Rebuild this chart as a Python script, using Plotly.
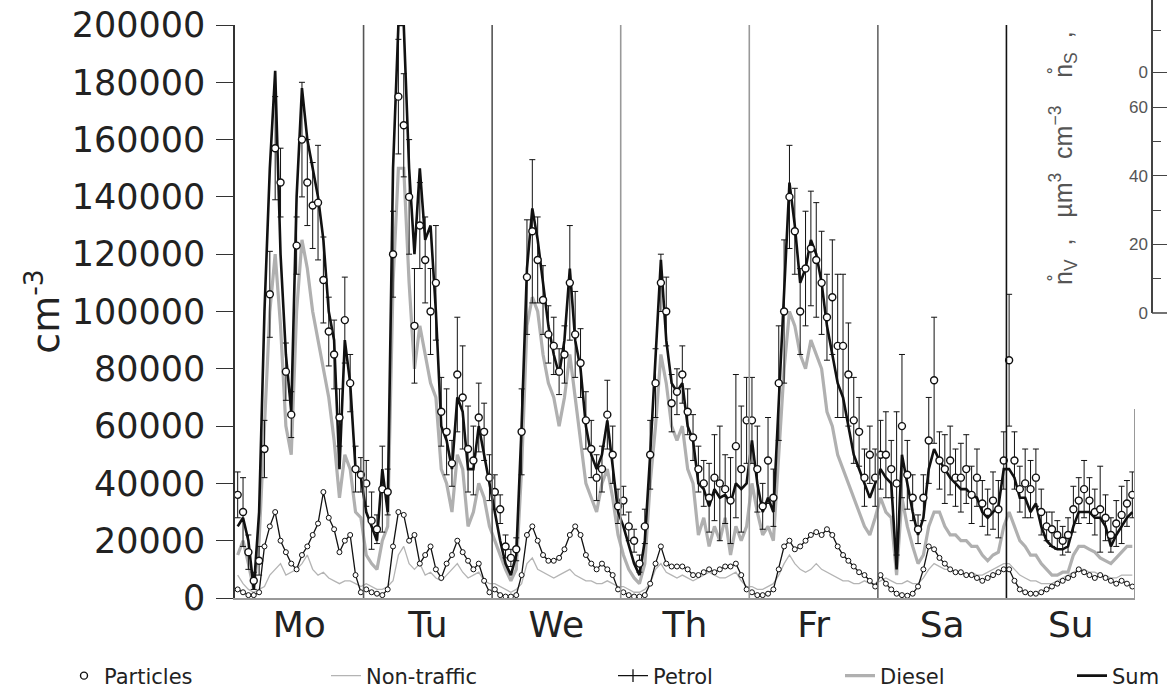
import plotly.graph_objects as go

days = ["Mo", "Tu", "We", "Th", "Fr", "Sa", "Su"]

# hourly particle number concentration (cm^-3), Mo..Su, 24 values per day
particles = [
    36000, 30000, 16000, 6000, 13000, 52000, 106000, 157000, 145000, 79000, 64000, 123000,
    160000, 145000, 137000, 138000, 111000, 93000, 85000, 63000, 97000, 75000, 45000, 43000,
    40000, 27000, 24000, 38000, 37000, 120000, 175000, 165000, 140000, 95000, 130000, 118000,
    100000, 110000, 65000, 58000, 47000, 78000, 70000, 52000, 48000, 63000, 58000, 42000,
    37000, 31000, 18000, 14000, 17000, 58000, 112000, 128000, 118000, 104000, 92000, 88000,
    79000, 85000, 110000, 92000, 82000, 62000, 52000, 42000, 45000, 64000, 50000, 32000,
    34000, 25000, 20000, 12000, 25000, 50000, 75000, 110000, 100000, 68000, 72000, 78000,
    65000, 56000, 45000, 40000, 35000, 42000, 40000, 38000, 34000, 53000, 45000, 62000,
    62000, 45000, 32000, 48000, 35000, 75000, 100000, 140000, 128000, 100000, 115000, 122000,
    118000, 110000, 98000, 105000, 88000, 88000, 78000, 62000, 58000, 42000, 50000, 42000,
    50000, 50000, 45000, 40000, 60000, 43000, 35000, 24000, 35000, 55000, 76000, 48000,
    45000, 48000, 42000, 42000, 45000, 36000, 42000, 33000, 30000, 34000, 31000, 48000,
    83000, 48000, 38000, 40000, 38000, 42000, 30000, 25000, 24000, 22000, 20000, 22000,
    31000, 34000, 38000, 34000, 30000, 31000, 28000, 22000, 26000, 29000, 33000, 36000,
]

particles_err = [
    8000, 12000, 6000, 3000, 5000, 10000, 15000, 18000, 12000, 10000, 8000, 10000,
    20000, 15000, 15000, 20000, 15000, 12000, 12000, 10000, 15000, 10000, 8000, 6000,
    8000, 10000, 5000, 15000, 8000, 15000, 20000, 18000, 20000, 20000, 15000, 15000,
    15000, 20000, 12000, 15000, 8000, 20000, 18000, 15000, 12000, 12000, 10000, 8000,
    6000, 5000, 4000, 3000, 4000, 15000, 20000, 25000, 15000, 12000, 10000, 10000,
    8000, 10000, 20000, 15000, 12000, 10000, 10000, 8000, 8000, 12000, 10000, 6000,
    5000, 5000, 4000, 3000, 6000, 12000, 12000, 10000, 12000, 10000, 8000, 10000,
    8000, 8000, 8000, 8000, 12000, 15000, 20000, 12000, 15000, 25000, 22000, 15000,
    15000, 15000, 8000, 15000, 10000, 20000, 25000, 18000, 15000, 15000, 20000, 20000,
    20000, 18000, 15000, 20000, 25000, 25000, 18000, 15000, 12000, 10000, 10000, 10000,
    12000, 15000, 10000, 25000, 25000, 12000, 8000, 5000, 8000, 15000, 22000, 10000,
    12000, 12000, 10000, 12000, 12000, 10000, 10000, 8000, 8000, 10000, 10000, 10000,
    23000, 10000, 8000, 12000, 10000, 10000, 8000, 5000, 6000, 5000, 5000, 6000,
    8000, 8000, 10000, 8000, 8000, 15000, 8000, 6000, 8000, 10000, 8000, 8000,
]

non_traffic = [
    8000, 5000, 3000, 2000, 3000, 4000, 8000, 10000, 12000, 8000, 9000, 10000,
    12000, 15000, 10000, 8000, 9000, 7000, 6000, 5000, 6000, 6000, 5000, 4000,
    5000, 4000, 3000, 3000, 4000, 6000, 15000, 18000, 12000, 10000, 12000, 8000,
    9000, 7000, 6000, 8000, 10000, 12000, 9000, 7000, 8000, 9000, 6000, 5000,
    5000, 4000, 3000, 2000, 3000, 5000, 12000, 14000, 10000, 9000, 8000, 7000,
    8000, 9000, 10000, 8000, 7000, 6000, 6000, 5000, 5000, 6000, 5000, 4000,
    4000, 3000, 2000, 2000, 3000, 5000, 10000, 12000, 9000, 8000, 7000, 8000,
    7000, 6000, 7000, 8000, 9000, 8000, 7000, 7000, 8000, 9000, 6000, 4000,
    4000, 3000, 3000, 4000, 5000, 8000, 12000, 15000, 12000, 10000, 9000, 10000,
    12000, 10000, 9000, 8000, 7000, 6000, 6000, 5000, 5000, 6000, 5000, 5000,
    6000, 7000, 6000, 5000, 5000, 6000, 5000, 5000, 7000, 10000, 12000, 11000,
    10000, 10000, 9000, 9000, 8000, 9000, 8000, 8000, 9000, 10000, 11000, 12000,
    12000, 10000, 8000, 7000, 6000, 6000, 5000, 5000, 5000, 6000, 7000, 8000,
    9000, 10000, 10000, 9000, 9000, 8000, 8000, 7000, 7000, 8000, 8000, 8000,
]

petrol = [
    3000, 2000, 1000, 1000, 2000, 18000, 25000, 30000, 20000, 16000, 12000, 10000,
    15000, 18000, 22000, 26000, 37000, 28000, 24000, 16000, 20000, 22000, 8000, 2000,
    3000, 2000, 1500, 1000, 3000, 18000, 30000, 29000, 20000, 22000, 12000, 15000,
    18000, 10000, 7000, 12000, 15000, 20000, 16000, 13000, 10000, 12000, 6000, 2000,
    3000, 1000, 500, 500, 1000, 8000, 22000, 25000, 20000, 15000, 13000, 13000,
    14000, 17000, 22000, 25000, 22000, 15000, 12000, 10000, 12000, 10000, 8000, 3000,
    2000, 1000, 500, 500, 1000, 5000, 12000, 18000, 12000, 11000, 11000, 11000,
    10000, 8000, 8000, 9000, 10000, 9000, 10000, 11000, 11000, 12000, 8000, 3000,
    2000, 1000, 1000, 1500, 3000, 10000, 18000, 20000, 17000, 18000, 20000, 22000,
    23000, 22000, 24000, 22000, 18000, 15000, 13000, 11000, 9000, 8000, 6000, 4000,
    8000, 5000, 3000, 1500, 1000, 800, 1500, 4000, 10000, 18000, 17000, 14000,
    12000, 10000, 9000, 9000, 8000, 8000, 7000, 6000, 7000, 8000, 9000, 10000,
    10000, 6000, 3000, 2000, 1500, 1500, 2000, 3000, 4000, 5000, 6000, 7000,
    8000, 10000, 9000, 8000, 7000, 8000, 7000, 6000, 5000, 6000, 5000, 4000,
]

diesel = [
    15000, 20000, 12000, 3000, 20000, 60000, 100000, 120000, 95000, 60000, 50000, 100000,
    125000, 115000, 100000, 90000, 80000, 70000, 55000, 35000, 50000, 45000, 30000, 28000,
    15000, 12000, 10000, 20000, 25000, 110000, 150000, 150000, 110000, 80000, 95000, 85000,
    75000, 70000, 45000, 40000, 30000, 50000, 45000, 25000, 30000, 40000, 35000, 25000,
    20000, 15000, 10000, 6000, 10000, 45000, 95000, 105000, 100000, 85000, 75000, 70000,
    60000, 70000, 85000, 70000, 55000, 40000, 35000, 30000, 40000, 45000, 35000, 22000,
    15000, 10000, 7000, 5000, 12000, 40000, 60000, 85000, 75000, 60000, 55000, 60000,
    45000, 40000, 22000, 28000, 18000, 25000, 20000, 28000, 15000, 25000, 20000, 25000,
    40000, 30000, 22000, 25000, 20000, 50000, 80000, 100000, 95000, 85000, 80000, 90000,
    85000, 80000, 65000, 60000, 50000, 45000, 40000, 35000, 30000, 25000, 22000, 28000,
    35000, 30000, 28000, 8000, 35000, 25000, 18000, 12000, 15000, 25000, 30000, 30000,
    25000, 22000, 22000, 20000, 20000, 18000, 18000, 15000, 13000, 15000, 16000, 25000,
    30000, 25000, 20000, 18000, 15000, 15000, 12000, 10000, 8000, 8000, 9000, 9000,
    15000, 18000, 18000, 17000, 16000, 14000, 13000, 12000, 14000, 16000, 18000, 18000,
]

total = [
    25000, 28000, 20000, 3000, 30000, 100000, 150000, 184000, 120000, 85000, 65000, 140000,
    178000, 160000, 150000, 140000, 125000, 100000, 90000, 45000, 90000, 75000, 45000, 42000,
    30000, 25000, 20000, 45000, 30000, 150000, 200000, 200000, 150000, 120000, 150000, 125000,
    130000, 100000, 60000, 55000, 45000, 70000, 65000, 45000, 45000, 60000, 50000, 40000,
    30000, 20000, 12000, 8000, 15000, 60000, 115000, 136000, 125000, 110000, 95000, 85000,
    78000, 90000, 115000, 90000, 80000, 60000, 50000, 45000, 50000, 62000, 45000, 30000,
    25000, 18000, 12000, 8000, 20000, 50000, 85000, 118000, 90000, 75000, 72000, 75000,
    60000, 55000, 40000, 38000, 32000, 38000, 35000, 36000, 33000, 40000, 38000, 40000,
    55000, 40000, 30000, 35000, 30000, 70000, 110000, 145000, 130000, 110000, 115000, 125000,
    120000, 110000, 95000, 85000, 75000, 70000, 60000, 50000, 45000, 40000, 35000, 40000,
    45000, 42000, 40000, 10000, 50000, 40000, 30000, 22000, 28000, 45000, 52000, 48000,
    45000, 42000, 40000, 38000, 38000, 36000, 35000, 30000, 28000, 30000, 32000, 45000,
    45000, 42000, 35000, 35000, 30000, 33000, 25000, 20000, 18000, 17000, 17000, 18000,
    25000, 30000, 30000, 30000, 28000, 28000, 25000, 18000, 22000, 25000, 28000, 30000,
]

# partial axis of the overlapping panel on the right
inset_ticks = [0, 20, 40, 60, 70.2]
inset_ticktext = ["0", "20", "40", "60", "0"]

hours_per_day = 24
n = len(particles)
x = [h + 0.5 for h in range(n)]
FONT = "DejaVu Sans"
legend_y = 1 - 676 / 691
legend_font = dict(size=21, family=FONT, color="#222")

fig = go.Figure()

fig.add_trace(go.Scatter(x=x, y=non_traffic, mode="lines", name="Non-traffic", legend="legend2",
                         line=dict(color="#b4b4b4", width=1.3)))
fig.add_trace(go.Scatter(x=x, y=diesel, mode="lines", name="Diesel", legend="legend4",
                         line=dict(color="#b0b0b0", width=3.2)))
fig.add_trace(go.Scatter(x=x, y=petrol, mode="lines+markers", name="Petrol", showlegend=False,
                         legendgroup="petrol",
                         line=dict(color="#111", width=1.3),
                         marker=dict(symbol="circle", size=5, color="white",
                                     line=dict(color="#111", width=1))))
fig.add_trace(go.Scatter(x=[None], y=[None], mode="lines+markers", name="Petrol",
                         legendgroup="petrol", legend="legend3",
                         line=dict(color="#111", width=1.3),
                         marker=dict(symbol="line-ns", size=9, line=dict(color="#111", width=1.3))))
fig.add_trace(go.Scatter(x=x, y=total, mode="lines", name="Sum", legend="legend5",
                         line=dict(color="#111", width=2.6)))
fig.add_trace(go.Scatter(x=x, y=particles, mode="markers", name="Particles", legend="legend",
                         marker=dict(symbol="circle", size=7, color="white",
                                     line=dict(color="#111", width=1.4)),
                         error_y=dict(type="data", array=particles_err, color="#111",
                                      thickness=1, width=3)))
fig.add_trace(go.Scatter(x=[None], y=[None], yaxis="y2", showlegend=False, hoverinfo="skip"))

shapes = []
sep_colors = ["#555", "#555", "#999", "#999", "#666", "#111"]
for d in range(1, len(days)):
    shapes.append(dict(type="line", xref="x", yref="y", x0=d * hours_per_day, x1=d * hours_per_day,
                       y0=0, y1=200000, line=dict(color=sep_colors[d - 1], width=1.6)))
shapes.append(dict(type="line", xref="x", yref="y", x0=n, x1=n, y0=0, y1=66000,
                   line=dict(color="#999", width=2)))
shapes.append(dict(type="line", xref="paper", yref="paper", x0=0.984, x1=1.0,
                   y0=0.4766, y1=0.4766, line=dict(color="#444", width=1.5)))


def legend_at(px):
    return dict(orientation="h", xref="container", yref="container",
                x=px / 1167, xanchor="left", y=legend_y, yanchor="middle",
                font=legend_font, bgcolor="rgba(0,0,0,0)")


fig.update_layout(
    width=1167, height=691,
    margin=dict(l=235, r=0, t=0, b=93, autoexpand=False),
    paper_bgcolor="white", plot_bgcolor="rgba(0,0,0,0)",
    font=dict(family=FONT, color="#222"),
    showlegend=True,
    legend=legend_at(64),
    legend2=legend_at(326),
    legend3=legend_at(613),
    legend4=legend_at(840),
    legend5=legend_at(1072),
    xaxis=dict(domain=[0, 900 / 932], range=[0, n], automargin=False,
               tickvals=[d * hours_per_day + 12 for d in range(len(days))],
               ticktext=days, ticks="", showgrid=False, zeroline=False,
               showline=True, linecolor="#999", linewidth=2,
               ticklabelstandoff=-6,
               tickfont=dict(size=36, family=FONT, color="#222")),
    yaxis=dict(domain=[0, 573 / 598], range=[0, 200000], automargin=False,
               tickvals=list(range(0, 200001, 20000)),
               tickformat="d", ticks="outside", ticklen=17, tickcolor="#333",
               showgrid=False, zeroline=False, showline=True, linecolor="#333", linewidth=1.5,
               tickfont=dict(size=35, family=FONT, color="#222"),
               ticklabelstandoff=4,
               title=dict(text="cm<sup>-3</sup>", font=dict(size=38, family=FONT, color="#222"),
                          standoff=0)),
    yaxis2=dict(domain=[0.4766, 1.0], range=[0, 91.2], anchor="free",
                position=0.984, side="left", automargin=False,
                tickvals=inset_ticks, ticktext=inset_ticktext,
                ticks="inside", ticklen=15, tickcolor="#444",
                minor=dict(tickvals=[10, 30, 50, 82.4], ticklen=8, ticks="inside", tickcolor="#444"),
                showgrid=False, zeroline=False, showline=True, linecolor="#444", linewidth=1.5,
                tickfont=dict(size=17, family="Liberation Sans", color="#555")),
    shapes=shapes,
    annotations=[dict(xref="paper", yref="paper", x=0.889, y=0.735, showarrow=False,
                      textangle=-90, xanchor="center", yanchor="middle",
                      text="n̊<sub>V</sub>  ,   µm<sup>3</sup>  cm<sup>−3</sup>    n̊<sub>S</sub>  ,",
                      font=dict(size=25, family="Liberation Sans", color="#555"))],
)

fig.write_html("out.html")
